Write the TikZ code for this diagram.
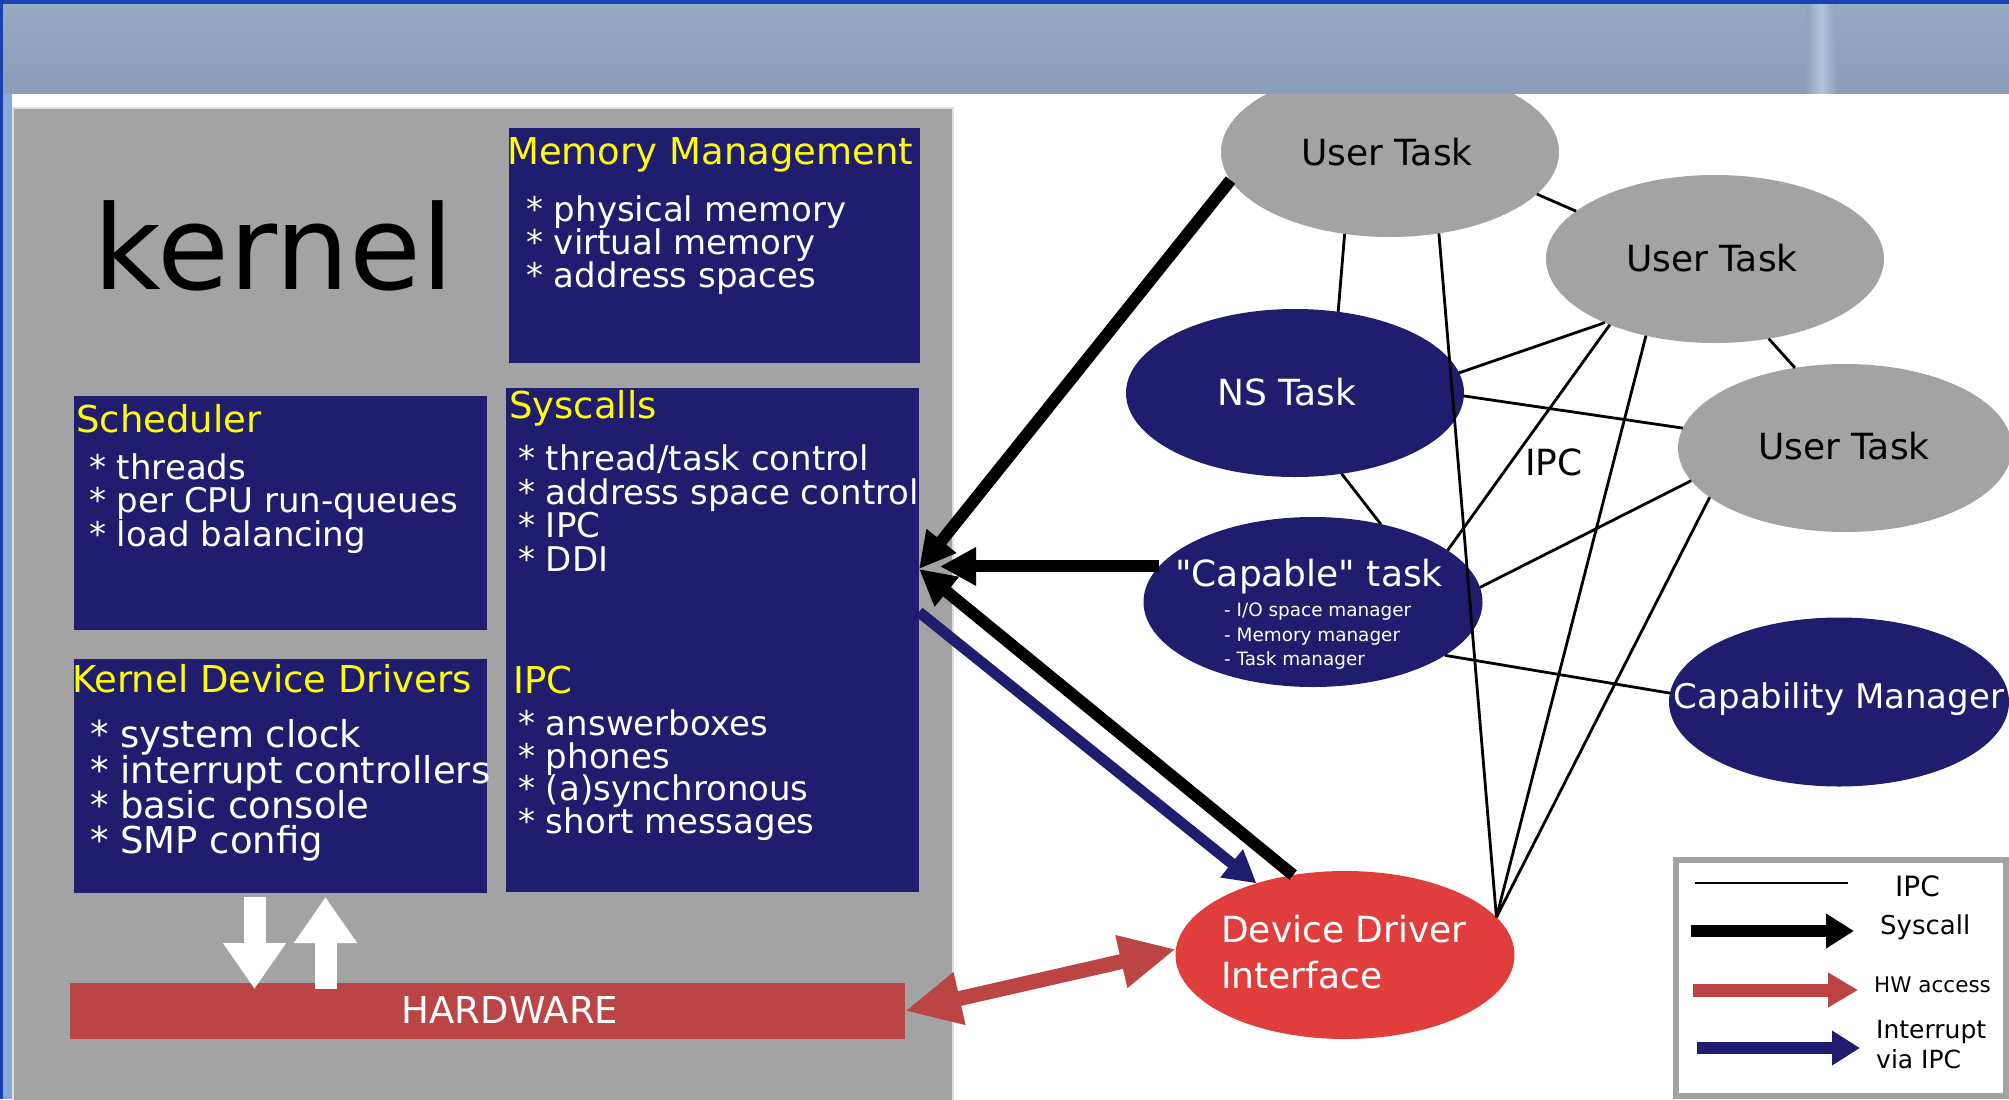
\documentclass[tikz,border=0pt]{standalone}
\usepackage{fontspec}
\setmainfont{DejaVu Sans}[Ligatures=TeXOff]
\usetikzlibrary{shapes.geometric,arrows.meta,calc}
\definecolor{navy}{RGB}{32,29,111}
\definecolor{yel}{RGB}{255,255,0}
\definecolor{pgray}{RGB}{163,163,163}
\definecolor{ddired}{RGB}{224,61,61}
\definecolor{hwred}{RGB}{187,68,68}
\definecolor{bandc}{RGB}{143,162,190}
\definecolor{bandtop}{RGB}{150,168,196}
\definecolor{bandbot}{RGB}{138,157,186}
\definecolor{streak}{RGB}{178,196,220}
\definecolor{edgeblue}{RGB}{28,66,176}
\definecolor{stripec}{RGB}{135,170,215}
\definecolor{panelline}{RGB}{222,222,222}
\newcommand{\myfs}[1]{\fontsize{#1bp}{#1bp}\selectfont}
\begin{document}
\begin{tikzpicture}[x=1bp,y=-1bp,
  navybox/.style={fill=navy, draw=none, inner sep=0, outer sep=0, anchor=north west},
  ytitle/.style={text=yel, anchor=base west, inner sep=0, font=\myfs{37}},
  bul/.style={text=white, anchor=base west, inner sep=0, font=\myfs{34}},
  bulbig/.style={text=white, anchor=base west, inner sep=0, font=\myfs{37}},
  ell/.style={ellipse, inner sep=0, outer sep=0, draw=none},
  etext/.style={anchor=base, inner sep=0, font=\myfs{36}},
  ipc/.style={line width=2.8bp, black},
  sysarrow/.style={line width=12bp, black, -{Triangle[length=36bp,width=36bp]}},
  intarrow/.style={line width=11bp, draw=navy, -{Triangle[length=32bp,width=34bp]}},
  hwarrow/.style={line width=15bp, draw=hwred, {Triangle[length=56bp,width=50bp]}-{Triangle[length=56bp,width=50bp]}},
  wharrow/.style={line width=22bp, draw=white, -{Triangle[length=46bp,width=60bp]}},
  legtext/.style={anchor=base west, inner sep=0, text=black}
]
\useasboundingbox (0,0) rectangle (2009,1099);
\clip (0,0) rectangle (2009,1099);
\fill[white] (0,0) rectangle (2009,1099);

% left stripe
\fill[stripec] (0,93) rectangle (12,1099);

% kernel panel
\node[fill=pgray, draw=panelline, line width=1.5bp, inner sep=0, outer sep=0, anchor=north west,
      minimum width=940bp, minimum height=1010bp] (kpanel) at (13,108) {};
\node[anchor=base, inner sep=0, font=\myfs{117}] (kt) at (274,289) {kernel};

% Memory management
\node[navybox, minimum width=411bp, minimum height=235bp] (mem) at (509,128) {};
\node[ytitle] (memt) at (507,164) {Memory Management};
\node[bul] (mem1) at (526,221) {* physical memory};
\node[bul] (mem2) at (526,254) {* virtual memory};
\node[bul] (mem3) at (526,287) {* address spaces};

% Scheduler
\node[navybox, minimum width=413bp, minimum height=234bp] (sch) at (74,396) {};
\node[ytitle] (scht) at (76,432) {Scheduler};
\node[bul] (sch1) at (89,479) {* threads};
\node[bul] (sch2) at (89,512) {* per CPU run-queues};
\node[bul] (sch3) at (89,546) {* load balancing};

% Kernel device drivers
\node[navybox, minimum width=413bp, minimum height=234bp] (kdd) at (74,659) {};
\node[ytitle] (kddt) at (72,692) {Kernel Device Drivers};
\node[bulbig] (kdd1) at (90,747) {* system clock};
\node[bulbig] (kdd2) at (90,783) {* interrupt controllers};
\node[bulbig] (kdd3) at (90,818) {* basic console};
\node[bulbig] (kdd4) at (90,853) {* SMP config};

% Syscalls + IPC
\node[navybox, minimum width=413bp, minimum height=504bp] (sys) at (506,388) {};
\node[ytitle] (syst) at (509,418) {Syscalls};
\node[bul] (sys1) at (518,470) {* thread/task control};
\node[bul] (sys2) at (518,504) {* address space control};
\node[bul] (sys3) at (518,537) {* IPC};
\node[bul] (sys4) at (518,571) {* DDI};
\node[ytitle] (ipct) at (513,693) {IPC};
\node[bul] (ipc1) at (518,735) {* answerboxes};
\node[bul] (ipc2) at (518,768) {* phones};
\node[bul] (ipc3) at (518,800) {* (a)synchronous};
\node[bul] (ipc4) at (518,833) {* short messages};

% Hardware
\node[fill=hwred, inner sep=0, outer sep=0, anchor=north west, minimum width=835bp, minimum height=56bp] (hw) at (70,983) {};
\node[anchor=base, inner sep=0, text=white, font=\myfs{37}] (hwt) at (510,1023) {HARDWARE};

% white arrows
\coordinate (wa) at ([xshift=-26bp,yshift=-4bp]kdd.south);
\coordinate (wb) at (wa |- hw.north);
\draw[wharrow] (wa) -- ([yshift=-6bp]wb);
\coordinate (ua) at ([xshift=45bp,yshift=-4bp]kdd.south);
\coordinate (ub) at (ua |- hw.north);
\draw[wharrow] ([yshift=-6bp]ub) -- (ua);

% ellipses
\node[ell, fill=pgray, minimum width=338bp, minimum height=170bp] (ut1) at (1390,152) {};
\node[ell, fill=pgray, minimum width=338bp, minimum height=168bp] (ut2) at (1715,259) {};
\node[ell, fill=pgray, minimum width=334bp, minimum height=168bp] (ut3) at (1845,448) {};
\node[ell, fill=navy, minimum width=338bp, minimum height=168bp] (ns) at (1295,393) {};
\node[ell, fill=navy, minimum width=339bp, minimum height=170bp] (cap) at (1313,602) {};
\node[ell, fill=navy, minimum width=340bp, minimum height=169bp] (cm) at (1839,702) {};
\node[ell, fill=ddired, minimum width=339bp, minimum height=168bp] (ddi) at (1345,955) {};

% IPC lines
\draw[ipc] (ut1.-16.4) -- (ut2.161.1);
\draw[ipc] (ut1.-119.2) -- (ns.62);
\draw[ipc] (ut1.-59.9) -- (ddi.14.7);
\draw[ipc] (ut2.210) -- (ns.7.6);
\draw[ipc] (ut2.212.7) -- (cap.21.5);
\draw[ipc] (ut2.228.6) -- (ddi.14.7);
\draw[ipc] (ut2.-56) -- (ut3.122.2);
\draw[ipc] (ns.-1.7) -- (ut3.173.7);
\draw[ipc] (ns.-60.2) -- (cap.49.8);
\draw[ipc] (ut3.192.5) -- (cap.5.5);
\draw[ipc] (ut3.200.6) -- (ddi.14.7);
\draw[ipc] (cap.-22) -- (cm.177.2);

% ellipse texts
\node[etext] (ut1t) at (1387,165) {User Task};
\node[etext] (ut2t) at (1712,271) {User Task};
\node[etext] (ut3t) at (1844,459) {User Task};
\node[etext, text=white] (nst) at (1287,405) {NS Task};
\node[etext] (ipcl) at (1554,475) {IPC};
\node[etext, text=white] (capt) at (1309,586) {"Capable" task};
\node[anchor=base west, inner sep=0, text=white, font=\myfs{18.4}] (cap1) at (1224,616) {- I/O space manager};
\node[anchor=base west, inner sep=0, text=white, font=\myfs{18.4}] (cap2) at (1224,641) {- Memory manager};
\node[anchor=base west, inner sep=0, text=white, font=\myfs{18.4}] (cap3) at (1224,665) {- Task manager};
\node[anchor=base, inner sep=0, text=white, font=\myfs{34}] (cmt) at (1839,708) {Capability Manager};
\node[anchor=base west, inner sep=0, text=white, font=\myfs{36}] (ddi1) at (1221,942) {Device Driver};
\node[anchor=base west, inner sep=0, text=white, font=\myfs{36}] (ddi2) at (1221,988) {Interface};

% syscall / interrupt / hw arrows
\coordinate (systip) at ([yshift=71bp]sys.east);
\coordinate (systip2) at ([xshift=21bp,yshift=73bp]sys.east);
\coordinate (intstart) at ([yshift=28bp]sys.east);
\draw[intarrow] (intstart) -- (ddi.141.7);
\draw[sysarrow] (ut1.190.6) -- (systip);
\draw[sysarrow] (ddi.123.5) -- (systip);
\draw[sysarrow] (cap.167.2) -- (cap.167.2 -| systip2);
\draw[hwarrow] (hw.east) -- (ddi.178);

% legend
\node[draw=pgray, line width=6bp, fill=white, inner sep=0, outer sep=0, anchor=north west,
      minimum width=330bp, minimum height=236bp] (legend) at (1676,860) {};
\coordinate (la1) at (1695,883); \coordinate (lb1) at (1848,883);
\coordinate (la2) at (1691,931); \coordinate (lb2) at (1854,931);
\coordinate (la3) at (1693,990); \coordinate (lb3) at (1858,990);
\coordinate (la4) at (1697,1048); \coordinate (lb4) at (1860,1048);
\draw[ipc] (la1) -- (lb1);
\draw[line width=12bp, black, -{Triangle[length=28bp,width=33bp]}] (la2) -- (lb2);
\draw[line width=13bp, draw=hwred, -{Triangle[length=30bp,width=33bp]}] (la3) -- (lb3);
\draw[line width=12bp, draw=navy, -{Triangle[length=28bp,width=33bp]}] (la4) -- (lb4);
\node[legtext, font=\myfs{28}] (lt1) at (1895,896) {IPC};
\node[legtext, font=\myfs{26}] (lt2) at (1880,934) {Syscall};
\node[legtext, font=\myfs{21.5}] (lt3) at (1874,992) {HW access};
\node[legtext, font=\myfs{25}] (lt4) at (1876,1038) {Interrupt};
\node[legtext, font=\myfs{25}] (lt5) at (1876,1068) {via IPC};

% top band
\shade[top color=bandtop, bottom color=bandbot] (0,0) rectangle (2009,93);
\shade[left color=bandc, right color=bandc, middle color=streak] (1806,0) rectangle (1836,93);
\fill[edgeblue] (0,0) rectangle (2009,4);
\fill[edgeblue] (0,0) rectangle (3,1099);
\end{tikzpicture}
\end{document}
